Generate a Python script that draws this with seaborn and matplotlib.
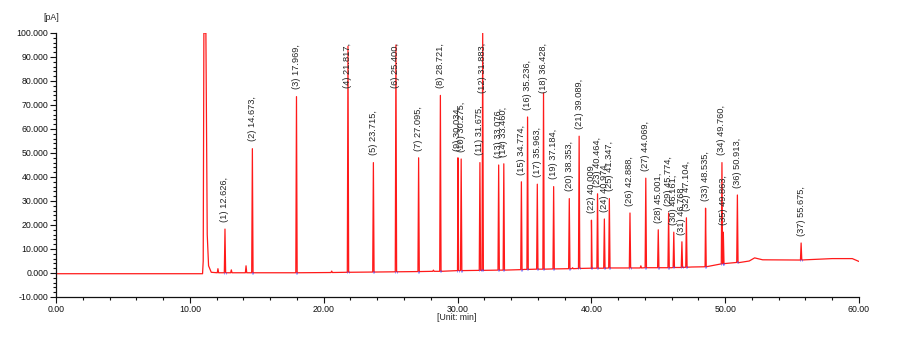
import numpy as np
import pandas as pd
import matplotlib
matplotlib.use('Agg')
import matplotlib.pyplot as plt
from matplotlib.ticker import FormatStrFormatter, MultipleLocator
import seaborn as sns

#%% data
# labelled peaks: retention time (min), apex (pA), baseline under the peak (pA)
peak_no = list(range(1, 38))
peak_rt = [12.626, 14.673, 17.969, 21.817, 23.715, 25.400, 27.095, 28.721,
           30.034, 30.275, 31.675, 31.883, 33.076, 33.460, 34.774, 35.236,
           35.963, 36.428, 37.184, 38.353, 39.089, 40.009, 40.464, 40.974,
           41.347, 42.888, 44.069, 45.001, 45.774, 46.161, 46.768, 47.104,
           48.535, 49.760, 49.863, 50.913, 55.675]
peak_top = [18.3, 51.8, 73.5, 94.5, 46.0, 95.0, 48.0, 74.0,
            48.0, 47.5, 46.0, 100.0, 45.0, 45.5, 38.0, 65.0,
            37.0, 75.0, 36.0, 31.0, 57.0, 22.0, 33.0, 22.5,
            31.0, 25.0, 39.5, 18.0, 25.0, 17.0, 13.0, 23.0,
            27.0, 46.0, 17.0, 32.5, 12.5]
peak_base = [0.1, 0.1, 0.1, 0.3, 0.4, 0.5, 0.6, 0.7,
             1.0, 1.0, 1.1, 1.1, 1.2, 1.2, 1.4, 1.5,
             1.6, 1.6, 1.7, 1.8, 1.9, 2.0, 2.0, 2.0,
             2.1, 2.1, 2.2, 2.2, 2.2, 2.3, 2.3, 2.4,
             2.6, 3.8, 3.9, 4.4, 5.4]

# small unlabelled peaks
minor_rt = [12.1, 13.1, 14.2, 20.6, 28.2, 38.6, 43.7]
minor_top = [1.8, 1.3, 3.0, 0.8, 1.2, 2.2, 3.0]
minor_base = [0.1, 0.1, 0.1, 0.2, 0.7, 1.8, 2.1]

# baseline drift and solvent front
base_t = [0.0, 10.95, 11.0, 11.05, 11.2, 11.25, 11.3, 11.4, 11.6, 15.0, 20.0,
          25.0, 30.0, 35.0, 40.0, 46.0, 47.5, 48.5, 49.5, 51.0, 51.8, 52.2,
          52.8, 55.0, 56.0, 58.0, 59.5, 60.0]
base_v = [-0.3, -0.3, 5.0, 100.0, 100.0, 55.0, 16.0, 3.0, 0.3, 0.1, 0.2,
          0.5, 1.0, 1.5, 2.0, 2.2, 2.5, 3.0, 3.6, 4.3, 5.0, 6.3,
          5.5, 5.4, 5.5, 6.0, 6.0, 4.8]

#%% build trace
hw = 0.05
tt, vv = list(base_t), list(base_v)
for t, h, b in zip(peak_rt + minor_rt, peak_top + minor_top, peak_base + minor_base):
    tt += [t - hw, t, t + hw]
    vv += [b, h, b]
trace = pd.DataFrame({'t': tt, 'v': vv}).sort_values('t')

# integration marks at the peak bases
marks = pd.DataFrame({'t': [t + d for t in peak_rt for d in (-hw, hw)],
                      'v': [b for b in peak_base for d in (0, 1)]})

#%% plot
sns.set_style('ticks')
plt.rcParams['font.family'] = ['Liberation Sans', 'DejaVu Sans']

fig = plt.figure(figsize=(9.11, 3.51), dpi=100)
ax = fig.add_axes([56/911, 54/351, 803/911, 264/351])

sns.lineplot(data=trace, x='t', y='v', sort=False, estimator=None,
             color='#ff1a1a', linewidth=0.9, ax=ax)
sns.scatterplot(data=marks, x='t', y='v', marker='|', s=3, color='#4040ff',
                linewidth=0.5, alpha=0.8, ax=ax, zorder=3)

ax.set_xlim(0, 60)
ax.set_ylim(-10, 100)
ax.xaxis.set_major_locator(MultipleLocator(10))
ax.xaxis.set_minor_locator(MultipleLocator(2))
ax.yaxis.set_major_locator(MultipleLocator(10))
ax.yaxis.set_minor_locator(MultipleLocator(2))
ax.xaxis.set_major_formatter(FormatStrFormatter('%.2f'))
ax.yaxis.set_major_formatter(FormatStrFormatter('%.3f'))
ax.tick_params(which='major', length=4, width=0.8, labelsize=6.3, colors='#111111', pad=1.5)
ax.tick_params(which='minor', length=2.5, width=0.8, colors='#111111')
for s in ['top', 'right']:
    ax.spines[s].set_visible(False)
for s in ['left', 'bottom']:
    ax.spines[s].set_linewidth(0.9)
    ax.spines[s].set_color('#111111')
ax.set_xlabel('')
ax.set_ylabel('')

fig.text(51/911, 1 - 17/351, '[pA]', fontsize=6.3, ha='center', va='center')
fig.text(457/911, 1 - 318/351, '[Unit: min]', fontsize=6.3, ha='center', va='center')

# peak labels, kept below a ceiling like the instrument software does
labels = []
for n, t, h in zip(peak_no, peak_rt, peak_top):
    txt = ax.text(t, h + 3, f'({n}) {t:.3f},', rotation=90, fontsize=6.7,
                  ha='center', va='bottom', clip_on=False)
    labels.append(txt)

fig.canvas.draw()
ceiling = 96.0
inv = ax.transData.inverted()
for txt in labels:
    bb = txt.get_window_extent()
    top = inv.transform((bb.x1, bb.y1))[1]
    if top > ceiling:
        txt.set_va('top')
        txt.set_y(ceiling)

fig.savefig('out.png', dpi=100)
